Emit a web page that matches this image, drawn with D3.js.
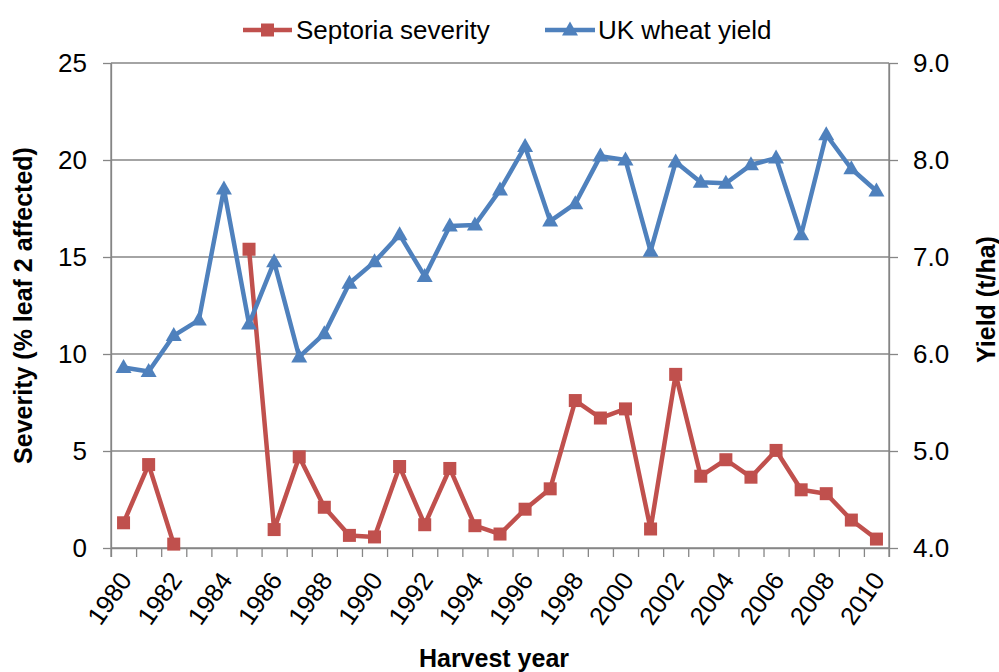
<!DOCTYPE html>
<html>
<head>
<meta charset="utf-8">
<script src="https://cdn.jsdelivr.net/npm/d3@7"></script>
<style>
  body { margin: 0; background: #fff; }
  text { font-family: "Liberation Sans", Arial, sans-serif; fill: #000; }
</style>
</head>
<body>
<div id="chart"></div>
<script>
// data
var years = [1980, 1981, 1982, 1983, 1984, 1985, 1986, 1987, 1988, 1989,
             1990, 1991, 1992, 1993, 1994, 1995, 1996, 1997, 1998, 1999,
             2000, 2001, 2002, 2003, 2004, 2005, 2006, 2007, 2008, 2009, 2010];
var severity = [1.3, 4.3, 0.2, null, null, 15.4, 0.95, 4.7, 2.1, 0.65,
                0.57, 4.2, 1.2, 4.1, 1.15, 0.72, 2.0, 3.05, 7.6, 6.7,
                7.17, 0.98, 8.95, 3.7, 4.55, 3.65, 5.03, 3.0, 2.8, 1.44, 0.46];
var yieldData = [5.86, 5.82, 6.19, 6.35, 7.7, 6.31, 6.95, 5.97, 6.21, 6.73,
                 6.95, 7.23, 6.8, 7.32, 7.33, 7.69, 8.14, 7.37, 7.55, 8.04,
                 8.0, 7.06, 7.98, 7.77, 7.76, 7.95, 8.02, 7.23, 8.26, 7.91, 7.68];
var leftTicks = [0, 5, 10, 15, 20, 25];
var rightTicks = [4, 5, 6, 7, 8, 9];
var labelYears = [1980, 1982, 1984, 1986, 1988, 1990, 1992, 1994, 1996, 1998,
                  2000, 2002, 2004, 2006, 2008, 2010];

var width = 999, height = 672;
var plotLeft = 111, plotRight = 889, plotTop = 63, plotBottom = 548;
var red = "#C0504D", blue = "#4F81BD", grid = "#868686";

var svg = d3.select("#chart").append("svg")
    .attr("width", width)
    .attr("height", height);

var x = d3.scaleBand().domain(years).range([plotLeft, plotRight]);
var xEdge = d3.scaleLinear().domain([0, years.length]).range([plotLeft, plotRight]);
var yL = d3.scaleLinear().domain([0, 25]).range([plotBottom, plotTop]);
var yR = d3.scaleLinear().domain([4, 9]).range([plotBottom, plotTop]);
function cx(yr) { return x(yr) + x.bandwidth() / 2; }

// gridlines
svg.append("g").selectAll("line")
    .data(leftTicks)
    .enter().append("line")
    .attr("x1", plotLeft).attr("x2", plotRight)
    .attr("y1", d => yL(d)).attr("y2", d => yL(d))
    .attr("stroke", grid).attr("stroke-width", 1.3);

// left axis
var gL = svg.append("g")
    .attr("transform", "translate(" + plotLeft + ",0)")
    .call(d3.axisLeft(yL).tickValues(leftTicks).tickSize(8).tickPadding(16).tickSizeOuter(0));
// right axis
var gR = svg.append("g")
    .attr("transform", "translate(" + plotRight + ",0)")
    .call(d3.axisRight(yR).tickValues(rightTicks).tickSize(9).tickPadding(15)
          .tickSizeOuter(0).tickFormat(d3.format(".1f")));
// bottom ticks between categories
var gB = svg.append("g")
    .attr("transform", "translate(0," + plotBottom + ")")
    .call(d3.axisBottom(xEdge).tickValues(d3.range(years.length + 1)).tickSize(9)
          .tickSizeOuter(0).tickFormat(""));

[gL, gR, gB].forEach(function (g) {
    g.selectAll("line").attr("stroke", grid).attr("stroke-width", 1.3);
    g.select(".domain").attr("stroke", grid).attr("stroke-width", 1.3);
    g.selectAll("text").attr("font-size", 26)
        .style("font-family", "'Liberation Sans', Arial, sans-serif").attr("fill", "#000");
});
// vertical axis lines reach down to the tick ends
svg.append("line").attr("x1", plotLeft).attr("x2", plotLeft).attr("y1", plotTop).attr("y2", plotBottom + 9)
    .attr("stroke", grid).attr("stroke-width", 1.3);
svg.append("line").attr("x1", plotRight).attr("x2", plotRight).attr("y1", plotTop).attr("y2", plotBottom + 9)
    .attr("stroke", grid).attr("stroke-width", 1.3);

// x labels, rotated
svg.append("g").selectAll("text")
    .data(labelYears)
    .enter().append("text")
    .attr("transform", d => "translate(" + (cx(d) + 2) + "," + (plotBottom + 27) + ") rotate(-55)")
    .attr("text-anchor", "end")
    .attr("dominant-baseline", "central")
    .attr("font-size", 25.5)
    .text(d => d);

// axis titles
svg.append("text")
    .attr("transform", "translate(32," + ((plotTop + plotBottom) / 2) + ") rotate(-90)")
    .attr("text-anchor", "middle").attr("font-size", 25).attr("font-weight", "bold")
    .text("Severity (% leaf 2 affected)");
svg.append("text")
    .attr("transform", "translate(995," + ((plotTop + plotBottom) / 2 - 6) + ") rotate(-90)")
    .attr("text-anchor", "middle").attr("font-size", 25).attr("font-weight", "bold")
    .text("Yield (t/ha)");
svg.append("text")
    .attr("x", 494).attr("y", 667)
    .attr("text-anchor", "middle").attr("font-size", 25).attr("font-weight", "bold")
    .text("Harvest year");

// series
var sevData = years.map((yr, i) => ({ year: yr, v: severity[i] }));
var yldData = years.map((yr, i) => ({ year: yr, v: yieldData[i] }));

var triPath = "M0,-8.5L8,5.5L-8,5.5Z";

svg.append("path")
    .datum(sevData)
    .attr("fill", "none").attr("stroke", red).attr("stroke-width", 4.5)
    .attr("stroke-linejoin", "round")
    .attr("d", d3.line().defined(d => d.v != null).x(d => cx(d.year)).y(d => yL(d.v)));
svg.append("g").selectAll("rect")
    .data(sevData.filter(d => d.v != null))
    .enter().append("rect")
    .attr("x", d => cx(d.year) - 6.5).attr("y", d => yL(d.v) - 6.5)
    .attr("width", 13).attr("height", 13)
    .attr("fill", red);

svg.append("path")
    .datum(yldData)
    .attr("fill", "none").attr("stroke", blue).attr("stroke-width", 4.5)
    .attr("stroke-linejoin", "round")
    .attr("d", d3.line().x(d => cx(d.year)).y(d => yR(d.v)));
svg.append("g").selectAll("path")
    .data(yldData)
    .enter().append("path")
    .attr("transform", d => "translate(" + cx(d.year) + "," + yR(d.v) + ")")
    .attr("d", triPath)
    .attr("fill", blue);

// legend
var legend = svg.append("g");
legend.append("line").attr("x1", 243).attr("x2", 292).attr("y1", 30).attr("y2", 30)
    .attr("stroke", red).attr("stroke-width", 4.5);
legend.append("rect").attr("x", 261).attr("y", 23.5).attr("width", 13).attr("height", 13).attr("fill", red);
legend.append("text").attr("x", 296).attr("y", 39).attr("font-size", 26).text("Septoria severity");
legend.append("line").attr("x1", 545).attr("x2", 595).attr("y1", 30).attr("y2", 30)
    .attr("stroke", blue).attr("stroke-width", 4.5);
legend.append("path").attr("transform", "translate(570,30)").attr("d", triPath).attr("fill", blue);
legend.append("text").attr("x", 598).attr("y", 39).attr("font-size", 26).text("UK wheat yield");
</script>
</body>
</html>
